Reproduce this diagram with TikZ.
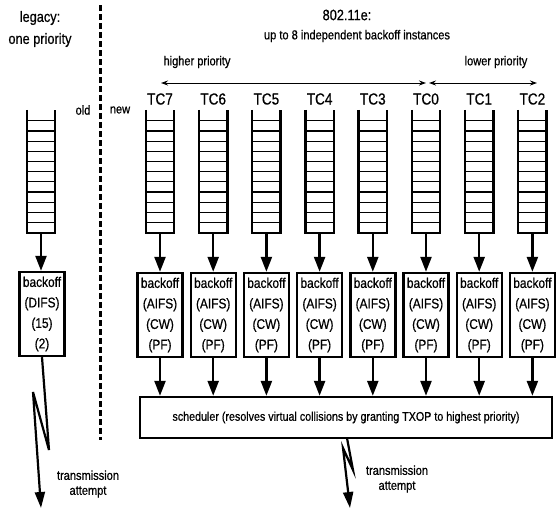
\documentclass[tikz,border=0pt]{standalone}
\usepackage{fontspec}
\setmainfont{Liberation Sans}[FakeStretch=0.85, FakeBold=0.6]
\usetikzlibrary{arrows.meta}
\begin{document}
\begin{tikzpicture}[x=1pt,y=-1pt,
  lbl/.style={font=\fontsize{13}{15}\selectfont, inner sep=0pt, align=center},
  head/.style={font=\fontsize{15}{22}\selectfont, inner sep=0pt, align=center},
  tclbl/.style={font=\fontsize{16}{18}\selectfont, inner sep=0pt},
  queuebox/.style={draw=none, minimum width=28pt, minimum height=112pt, inner sep=0pt},
  bobox/.style={draw, line width=2.4pt, minimum width=45pt, minimum height=84pt, inner sep=0pt, align=center, font=\fontsize{14}{20.5}\selectfont},
  schbox/.style={draw, line width=2.4pt, minimum width=412pt, minimum height=41pt, inner sep=0pt, font=\fontsize{12.6}{14}\selectfont},
  bigarrow/.style={line width=2.4pt, -{Triangle[length=15pt,width=11pt]}},
  bolt/.style={line width=2.2pt, line join=miter, -{Triangle[length=16pt,width=10pt]}},
  prio/.style={line width=1pt, {Stealth[length=7pt,width=5pt]}-{Stealth[length=7pt,width=5pt]}},
  slot/.style={line width=1.2pt},
  wall/.style={line width=2.4pt},
]
\useasboundingbox (0,0) rectangle (556,512);

% headings
\node[head] (leg) at (40,29) {legacy:\\one priority};
\node[head] (e80211) at (347,15) {802.11e:};
\node[lbl] (upto) at (357,36) {up to 8 independent backoff instances};
\node[lbl] (hp) at (197,62) {higher priority};
\node[lbl] (lp) at (496,62) {lower priority};
\node[lbl] (old) at (83,110) {old};
\node[lbl] (new) at (120,110) {new};

% priority arrows
\coordinate (h1) at (161,83);
\coordinate (h2) at (426,83);
\coordinate (l1) at (429,83);
\coordinate (l2) at (537,83);
\draw[prio] (h1) -- (h2);
\draw[prio] (l1) -- (l2);

% dashed separator
\coordinate (d1) at (100,5);
\coordinate (d2) at (100,440);
\draw[line width=3pt, dash pattern=on 6pt off 3pt] (d1) -- (d2);

% legacy queue
\node[queuebox] (q0) at (41,177) {};
\draw[wall] ([yshift=11pt]q0.north west) -- (q0.south west) -- (q0.south east) -- ([yshift=11pt]q0.north east);
\foreach \k in {0,...,10} \draw[slot] ([yshift={-\k*112/11*1pt}]q0.north west) -- ([yshift={-\k*112/11*1pt}]q0.north east);
\node[bobox] (b0) at (42,314) {backoff\\(DIFS)\\(15)\\(2)};
\draw[bigarrow] (q0.south) -- (q0.south |- b0.north);

% 802.11e queues
\foreach \n/\x/\t in {7/160/TC7, 6/213.2/TC6, 5/266.4/TC5, 4/319.6/TC4, 3/372.8/TC3, 0/426/TC0, 1/479.2/TC1, 2/532.4/TC2} {
  \node[tclbl] (tl\n) at (\x,99) {\t};
  \node[queuebox] (qq\n) at (\x,177) {};
  \draw[wall] ([yshift=11pt]qq\n.north west) -- (qq\n.south west) -- (qq\n.south east) -- ([yshift=11pt]qq\n.north east);
  \foreach \k in {0,...,10} \draw[slot] ([yshift={-\k*112/11*1pt}]qq\n.north west) -- ([yshift={-\k*112/11*1pt}]qq\n.north east);
  \node[bobox] (bb\n) at (\x,315) {backoff\\(AIFS)\\(CW)\\(PF)};
  \draw[bigarrow] (qq\n.south) -- (qq\n.south |- bb\n.north);
}

% scheduler
\node[schbox] (sch) at (346,417.5) {scheduler (resolves virtual collisions by granting TXOP to highest priority)};
\foreach \n in {7,6,5,4,3,0,1,2} \draw[bigarrow] (bb\n.south) -- (bb\n.south |- sch.north);

% transmission attempts
\coordinate (z1) at (49,450);
\coordinate (z2) at (33,392);
\coordinate (t1) at (41,508);
\draw[bolt] (b0.south) -- (z1) -- (z2) -- (t1);
\node[lbl] (ta1) at (88,484) {transmission\\attempt};

\coordinate (s0) at (347,438);
\coordinate (y1) at (353,470);
\coordinate (y2) at (343,448);
\coordinate (t2) at (350,508);
\draw[bolt] (s0) -- (y1) -- (y2) -- (t2);
\node[lbl] (ta2) at (397,479) {transmission\\attempt};
\end{tikzpicture}
\end{document}
